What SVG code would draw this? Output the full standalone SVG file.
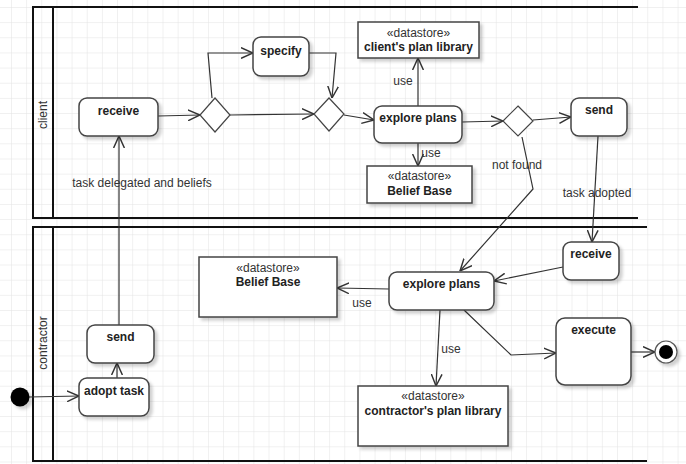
<svg xmlns="http://www.w3.org/2000/svg" width="686" height="464" viewBox="0 0 686 464">
<defs>
<pattern id="grid" x="11" y="7" width="15.15" height="15.15" patternUnits="userSpaceOnUse">
<path d="M0,0 L15.15,0 M0,0 L0,15.15" fill="none" stroke="#e2e2e2" stroke-width="1"/>
</pattern>
<filter id="sh" x="-20%" y="-20%" width="150%" height="150%">
<feDropShadow dx="3" dy="3" stdDeviation="1.5" flood-color="#000" flood-opacity="0.18"/>
</filter>
<marker id="arr" markerWidth="12" markerHeight="12" refX="10" refY="5" orient="auto" markerUnits="userSpaceOnUse" viewBox="0 0 10 10">
<path d="M0,0.5 L10,5 L0,9.5" fill="none" stroke="#333" stroke-width="1.2"/>
</marker>
<style>
.lane{fill:none;stroke:#111;stroke-width:2}
.act{fill:#fff;stroke:#444;stroke-width:1.5;filter:url(#sh)}
.ds{fill:#fff;stroke:#444;stroke-width:1.5;filter:url(#sh)}
.dec{fill:#fff;stroke:#444;stroke-width:1.2}
.b{font-family:"Liberation Sans",Arial,sans-serif;font-size:12px;font-weight:bold;fill:#222;text-anchor:middle}
.n{font-family:"Liberation Sans",Arial,sans-serif;font-size:12px;fill:#333;text-anchor:middle}
.e{fill:none;stroke:#333;stroke-width:1.2;marker-end:url(#arr)}
</style>
</defs>
<rect width="686" height="464" fill="#fff"/>
<rect width="686" height="464" fill="url(#grid)"/>

<g id="lane-client">
<path class="lane" d="M638,7 L33,7 L33,218 L638,218 M53,7 L53,218"/>
<text class="n" transform="translate(47,115) rotate(-90)">client</text>
</g>
<g id="lane-contractor">
<path class="lane" d="M647,227 L33,227 L33,461 L647,461 M53,227 L53,461"/>
<text class="n" transform="translate(47,343) rotate(-90)">contractor</text>
</g>

<g id="connectors">
<path class="e" d="M158,116 L200,115"/>
<path class="e" d="M212,98 L208,53 L253,53"/>
<path class="e" d="M309,53 L336,53 L332,98"/>
<path class="e" d="M230,115 L314,114"/>
<path class="e" d="M344,115 L374,120"/>
<path class="e" d="M418,106 L418,58"/>
<path class="e" d="M418,143 L418,166"/>
<path class="e" d="M462,122 L503,121"/>
<path class="e" d="M533,120 L571,117"/>
<path class="e" d="M522,137 L533,189 L460,271"/>
<path class="e" d="M598,136 L592,242"/>
<path class="e" d="M563,267 L494,281"/>
<path class="e" d="M389,289 L337,288"/>
<path class="e" d="M440,310 L436,386"/>
<path class="e" d="M464,310 L511,355 L556,353"/>
<path class="e" d="M631,352 L655,352"/>
<path class="e" d="M29,397 L79,396"/>
<path class="e" d="M117,378 L117,363"/>
<path class="e" d="M119,325 L119,136"/>
<text class="n" x="403" y="85">use</text>
<text class="n" x="431" y="157">use</text>
<text class="n" x="517" y="169">not found</text>
<text class="n" x="597" y="197">task adopted</text>
<text class="n" x="142" y="187">task delegated and beliefs</text>
<text class="n" x="362" y="307">use</text>
<text class="n" x="451" y="353">use</text>
</g>

<g id="client-receive"><rect class="act" x="79" y="98" width="79" height="38" rx="8"/><text class="b" x="118.5" y="115">receive</text></g>
<g id="decision1"><polygon class="dec" points="215,98 230,115 215,132 200,115"/></g>
<g id="specify"><rect class="act" x="253" y="37" width="56" height="39" rx="8"/><text class="b" x="281" y="55">specify</text></g>
<g id="decision2"><polygon class="dec" points="329,98 344,114 329,131 314,114"/></g>
<g id="client-explore"><rect class="act" x="374" y="106" width="88" height="37" rx="8"/><text class="b" x="418" y="122">explore plans</text></g>
<g id="client-plan-library"><rect class="ds" x="358" y="22" width="121" height="36"/><text class="n" x="418.5" y="37">«datastore»</text><text class="b" x="418.5" y="51">client's plan library</text></g>
<g id="client-belief-base"><rect class="ds" x="367" y="166" width="105" height="37"/><text class="n" x="419.5" y="180">«datastore»</text><text class="b" x="419.5" y="195">Belief Base</text></g>
<g id="decision3"><polygon class="dec" points="518,106 533,121 518,136 503,121"/></g>
<g id="client-send"><rect class="act" x="571" y="98" width="56" height="38" rx="8"/><text class="b" x="599" y="114">send</text></g>

<g id="contractor-receive"><rect class="act" x="563" y="242" width="56" height="38" rx="8"/><text class="b" x="591" y="258">receive</text></g>
<g id="contractor-explore"><rect class="act" x="389" y="272" width="105" height="38" rx="8"/><text class="b" x="441.5" y="288">explore plans</text></g>
<g id="contractor-belief-base"><rect class="ds" x="199" y="257" width="138" height="60"/><text class="n" x="268" y="272">«datastore»</text><text class="b" x="268" y="286">Belief Base</text></g>
<g id="contractor-plan-library"><rect class="ds" x="358" y="386" width="150" height="60"/><text class="n" x="433" y="400">«datastore»</text><text class="b" x="433" y="415">contractor's plan library</text></g>
<g id="execute"><rect class="act" x="556" y="318" width="75" height="67" rx="9"/><text class="b" x="593.5" y="334">execute</text></g>
<g id="final"><circle cx="666" cy="352" r="11" fill="#fff" stroke="#555" stroke-width="1.2" filter="url(#sh)"/><circle cx="666" cy="352" r="7" fill="#000"/></g>
<g id="contractor-send"><rect class="act" x="87" y="325" width="67" height="38" rx="8"/><text class="b" x="120.5" y="341">send</text></g>
<g id="adopt-task"><rect class="act" x="79" y="378" width="70" height="38" rx="8"/><text class="b" x="114" y="395">adopt task</text></g>
<g id="initial"><circle cx="20" cy="397" r="9.5" fill="#000" filter="url(#sh)"/></g>
</svg>
